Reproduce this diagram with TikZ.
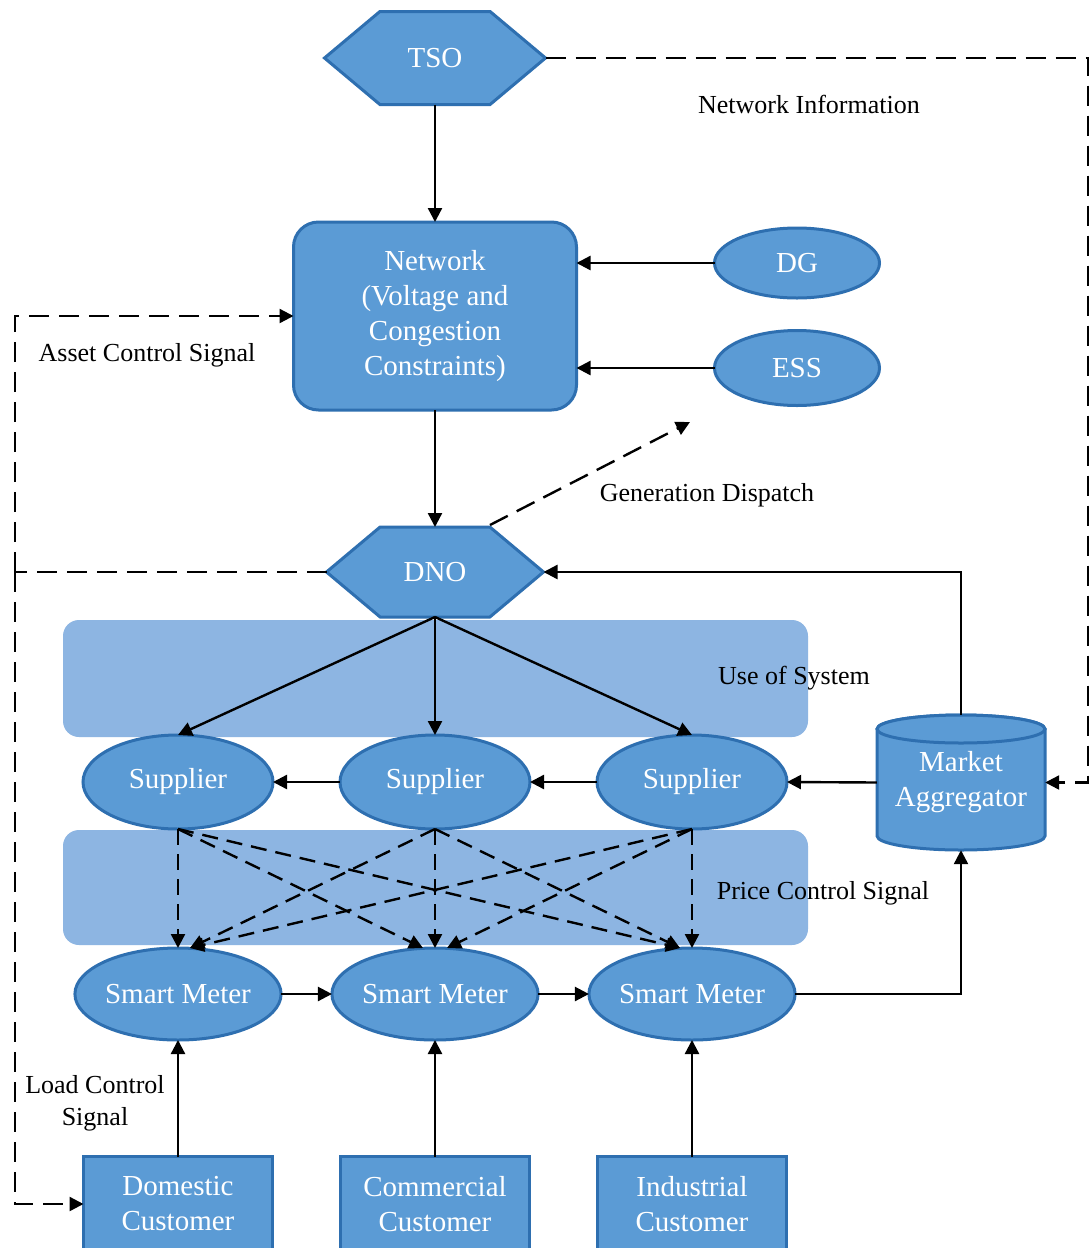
\documentclass[tikz,border=0pt]{standalone}
\usepackage{fontspec}
\setmainfont{Liberation Serif}
\usetikzlibrary{arrows.meta,shapes.geometric,shapes.symbols,calc}
\definecolor{nodeblue}{HTML}{5B9BD5}
\definecolor{edgeblue}{HTML}{2E6FB0}
\definecolor{bandblue}{HTML}{8DB5E2}
\newcommand\nodetextfont{\fontsize{29}{35}\selectfont}
\newcommand\labeltextfont{\fontsize{26}{32}\selectfont}

\begin{document}
\begin{tikzpicture}[x=1pt,y=1pt,
  shapefill/.style={fill=nodeblue, draw=edgeblue, line width=3pt},
  blk/.style={shapefill, text=white, font=\nodetextfont, align=center, inner sep=0pt, outer sep=0pt},
  hexa/.style={blk, shape=signal, signal to=west and east, signal pointer angle=80},
  oval/.style={blk, ellipse},
  rbox/.style={blk, rectangle, rounded corners=25pt},
  cust/.style={blk, rectangle, minimum width=189pt, minimum height=95pt},
  supp/.style={oval, minimum width=190pt, minimum height=94pt},
  meter/.style={oval, minimum width=190pt, minimum height=92pt},
  band/.style={fill=bandblue, rounded corners=16pt, draw=none, minimum width=745pt},
  lbl/.style={font=\labeltextfont, text=black, align=center, inner sep=0pt},
  flow/.style={line width=2.4pt, -{Triangle[length=14pt,width=14pt]}},
  sigline/.style={line width=2.4pt, dash pattern=on 20pt off 10pt},
  sig/.style={flow, sigline},
  price/.style={flow, dash pattern=on 16pt off 9pt}
]
\useasboundingbox (0,0) rectangle (1090,-1248);
\clip (0,0) rectangle (1090,-1248);
\fill[white] (0,0) rectangle (1090,-1248);

% background bands
\node[band, minimum height=117pt] (uos) at (435.5,-678.5) {};
\node[band, minimum height=115pt] (pcs) at (435.5,-887.5) {};

% main blocks
\node[hexa, minimum width=221pt, minimum height=93pt] (tso) at (435,-58) {TSO};
\node[rbox, minimum width=283pt, minimum height=188pt] (net) at (435,-316)
  {Network\\(Voltage and\\Congestion\\Constraints)};
\node[oval, minimum width=165pt, minimum height=70pt] (dg) at (797,-263) {DG};
\node[oval, minimum width=165pt, minimum height=75pt] (ess) at (797,-368) {ESS};
\node[hexa, minimum width=217pt, minimum height=90pt] (dno) at (435,-572) {DNO};

\node[supp] (s1) at (178,-782) {Supplier};
\node[supp] (s2) at (435,-782) {Supplier};
\node[supp] (s3) at (692,-782) {Supplier};

\node[meter] (m1) at (178,-994) {Smart Meter};
\node[meter] (m2) at (435,-994) {Smart Meter};
\node[meter] (m3) at (692,-994) {Smart Meter};

\node[cust] (c1) at (178,-1204) {Domestic\\Customer};
\node[cust] (c2) at (435,-1204) {Commercial\\Customer};
\node[cust] (c3) at (692,-1204) {Industrial\\Customer};

% market aggregator drum
\path[shapefill] (877,-729) -- (877,-836)
  arc[start angle=180, end angle=360, x radius=84, y radius=14] -- (1045,-729)
  arc[start angle=0, end angle=180, x radius=84, y radius=14] -- cycle;
\draw[shapefill] (961,-729) ellipse[x radius=84, y radius=14];
\node[text=white, font=\nodetextfont, align=center, inner sep=0pt,
  minimum width=168pt, minimum height=135pt] (ma) at (961,-782.5) {Market\\Aggregator};

% labels
\node[lbl] (lni) at (809,-104) {Network Information};
\node[lbl] (lac) at (147,-355) {Asset Control Signal};
\node[lbl] (lgd) at (707,-495) {Generation Dispatch};
\node[lbl] (lus) at (794,-678) {Use of System};
\node[lbl] (lpc) at (823,-893) {Price Control Signal};
\node[lbl] (llc) at (95,-1103) {Load Control\\Signal};

% solid flows
\draw[flow] (tso.south) -- (net.north);
\draw[flow] (dg.west) -- (dg.west -| net.east);
\draw[flow] (ess.west) -- (ess.west -| net.east);
\draw[flow] (net.south) -- (dno.north);
\draw[flow] (dno.south) -- (s1.north);
\draw[flow] (dno.south) -- (s2.north);
\draw[flow] (dno.south) -- (s3.north);
\draw[flow] (ma.west) -- (s3.east);
\draw[flow] (s3.west) -- (s2.east);
\draw[flow] (s2.west) -- (s1.east);
\draw[flow] (ma.north) |- (dno.east);
\draw[flow] (m1.east) -- (m2.west);
\draw[flow] (m2.east) -- (m3.west);
\draw[flow] (m3.east) -| (ma.south);
\draw[flow] (c1.north) -- (m1.south);
\draw[flow] (c2.north) -- (m2.south);
\draw[flow] (c3.north) -- (m3.south);

% signalling links
\coordinate (tr) at (1088,-58);
\draw[sig] (tso.east) -- (tr) |- (ma.east);
\coordinate (gd0) at (490,-525);
\coordinate (gd1) at (690,-422);
\draw[sig] (gd0) -- (gd1);
\coordinate (al) at (15,-572);
\draw[sigline] (dno.west) -- (al);
\draw[sig] (al) |- (net.west);
\draw[sig] (al) |- (c1.west);

% price control signals
\draw[price] (s1.south) -- (m1.north);
\draw[price] (s1.south) -- ($(m2.north)+(-12,0)$);
\draw[price] (s1.south) -- ($(m3.north)+(-12,0)$);
\draw[price] (s2.south) -- ($(m1.north)+(12,0)$);
\draw[price] (s2.south) -- (m2.north);
\draw[price] (s2.south) -- ($(m3.north)+(-12,0)$);
\draw[price] (s3.south) -- ($(m1.north)+(12,0)$);
\draw[price] (s3.south) -- ($(m2.north)+(12,0)$);
\draw[price] (s3.south) -- (m3.north);
\end{tikzpicture}
\end{document}
